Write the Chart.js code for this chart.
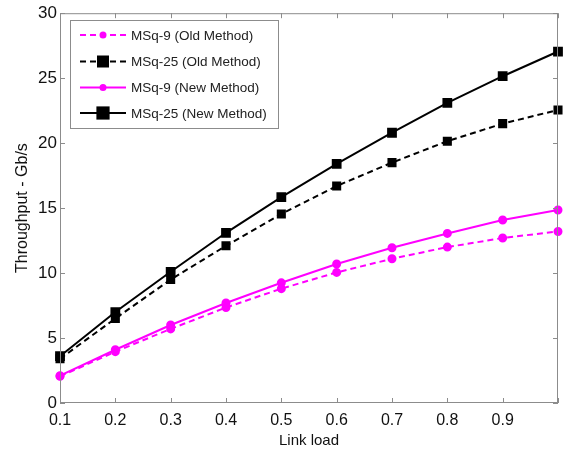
<!DOCTYPE html>
<html>
<head>
<meta charset="utf-8">
<script src="https://cdn.jsdelivr.net/npm/chart.js"></script>
<style>
  html, body { margin: 0; padding: 0; background: #ffffff; }
  #wrap { width: 566px; height: 450px; position: relative; }
</style>
</head>
<body>
<div id="wrap"><canvas id="chart"></canvas></div>
<script>
// link load values (x)
const linkLoad = [0.1, 0.2, 0.3, 0.4, 0.5, 0.6, 0.7, 0.8, 0.9, 1.0];
// throughput in Gb/s
const msq9Old = [2.05, 3.95, 5.7, 7.35, 8.8, 10.05, 11.1, 12.0, 12.7, 13.2];
const msq25Old = [3.4, 6.5, 9.5, 12.1, 14.55, 16.7, 18.5, 20.15, 21.5, 22.55];
const msq9New = [2.1, 4.1, 6.0, 7.7, 9.25, 10.7, 11.95, 13.05, 14.08, 14.85];
const msq25New = [3.6, 7.0, 10.1, 13.1, 15.85, 18.4, 20.8, 23.1, 25.15, 27.05];
const seriesNames = ['MSq-9 (Old Method)', 'MSq-25 (Old Method)', 'MSq-9 (New Method)', 'MSq-25 (New Method)'];
const yTicks = [0, 5, 10, 15, 20, 25, 30];

const FONT = '"Liberation Sans", Arial, Helvetica, sans-serif';
const AXIS_GRAY = '#8c8c8c';

function toPoints(ys) {
    return linkLoad.map((x, i) => ({ x: x, y: ys[i] }));
}

// frame with inward tick marks on all four sides
const framePlugin = {
    id: 'frame',
    afterDatasetsDraw(chart) {
        const { ctx, chartArea: a, scales } = chart;
        ctx.save();
        ctx.strokeStyle = AXIS_GRAY;
        ctx.lineWidth = 1;
        ctx.strokeRect(a.left + 0.5, a.top + 0.5, a.right - a.left - 1, a.bottom - a.top - 1);
        const len = 5;
        ctx.beginPath();
        scales.x.ticks.forEach(t => {
            const px = Math.round(scales.x.getPixelForValue(t.value)) + 0.5;
            ctx.moveTo(px, a.bottom);
            ctx.lineTo(px, a.bottom - len);
            ctx.moveTo(px, a.top);
            ctx.lineTo(px, a.top + len);
        });
        scales.y.ticks.forEach(t => {
            const py = Math.round(scales.y.getPixelForValue(t.value)) + 0.5;
            ctx.moveTo(a.left, py);
            ctx.lineTo(a.left + len, py);
            ctx.moveTo(a.right, py);
            ctx.lineTo(a.right - len, py);
        });
        ctx.stroke();
        ctx.restore();
    }
};

// legend box drawn inside the plot, upper left
const legendPlugin = {
    id: 'boxLegend',
    afterDraw(chart) {
        const { ctx } = chart;
        const box = { x: 70.5, y: 20.5, w: 208, h: 108 };
        ctx.save();
        ctx.fillStyle = '#ffffff';
        ctx.fillRect(box.x, box.y, box.w, box.h);
        ctx.strokeStyle = AXIS_GRAY;
        ctx.lineWidth = 1;
        ctx.strokeRect(box.x, box.y, box.w, box.h);
        const rows = [35, 61.5, 87.5, 113];
        chart.data.datasets.forEach((ds, i) => {
            const y = rows[i];
            ctx.strokeStyle = ds.borderColor;
            ctx.lineWidth = ds.borderWidth;
            ctx.setLineDash(ds.borderDash || []);
            ctx.beginPath();
            ctx.moveTo(80, y);
            ctx.lineTo(126, y);
            ctx.stroke();
            ctx.setLineDash([]);
            ctx.fillStyle = ds.pointBackgroundColor;
            if (ds.pointStyle === 'rect') {
                const s = ds.pointRadius * 1.2;
                ctx.fillRect(103 - s, y - s, 2 * s, 2 * s);
            } else {
                ctx.beginPath();
                ctx.arc(103, y, ds.pointRadius, 0, Math.PI * 2);
                ctx.fill();
            }
            ctx.fillStyle = '#222222';
            ctx.font = '13.5px ' + FONT;
            ctx.textBaseline = 'middle';
            ctx.fillText(ds.label, 131, y + 1);
        });
        ctx.restore();
    }
};

const ctx = document.getElementById('chart').getContext('2d');
new Chart(ctx, {
    type: 'line',
    data: {
        datasets: [
            {
                label: seriesNames[0],
                data: toPoints(msq9Old),
                borderColor: '#ff00ff',
                backgroundColor: '#ff00ff',
                pointBackgroundColor: '#ff00ff',
                pointBorderColor: '#ff00ff',
                borderWidth: 2,
                borderDash: [6, 4],
                pointStyle: 'circle',
                pointRadius: 3.5
            },
            {
                label: seriesNames[1],
                data: toPoints(msq25Old),
                borderColor: '#000000',
                backgroundColor: '#000000',
                pointBackgroundColor: '#000000',
                pointBorderColor: '#000000',
                borderWidth: 2,
                borderDash: [6, 4],
                pointStyle: 'rect',
                pointRadius: 5
            },
            {
                label: seriesNames[2],
                data: toPoints(msq9New),
                borderColor: '#ff00ff',
                backgroundColor: '#ff00ff',
                pointBackgroundColor: '#ff00ff',
                pointBorderColor: '#ff00ff',
                borderWidth: 2,
                pointStyle: 'circle',
                pointRadius: 3.5
            },
            {
                label: seriesNames[3],
                data: toPoints(msq25New),
                borderColor: '#000000',
                backgroundColor: '#000000',
                pointBackgroundColor: '#000000',
                pointBorderColor: '#000000',
                borderWidth: 2,
                pointStyle: 'rect',
                pointRadius: 5.5
            }
        ]
    },
    options: {
        responsive: true,
        maintainAspectRatio: false,
        animation: false,
        clip: false,
        layout: { padding: { left: 0, right: 5, top: 13, bottom: 0 } },
        plugins: {
            legend: { display: false },
            tooltip: { enabled: false }
        },
        scales: {
            x: {
                type: 'linear',
                min: 0.1,
                max: 1.0,
                grid: { display: false, drawTicks: false },
                border: { display: false },
                afterFit: (scale) => { scale.height = 47; },
                ticks: {
                    stepSize: 0.1,
                    padding: 8,
                    color: '#111111',
                    font: { family: FONT, size: 16 },
                    maxRotation: 0,
                    callback: (v) => (v > 0.95 ? '' : Number(v).toFixed(1))
                },
                title: {
                    display: true,
                    text: 'Link load',
                    color: '#111111',
                    font: { family: FONT, size: 15 },
                    padding: { top: 0, bottom: 0 }
                }
            },
            y: {
                min: 0,
                max: 30,
                grid: { display: false, drawTicks: false },
                border: { display: false },
                afterFit: (scale) => { scale.width = 60; },
                afterBuildTicks: (scale) => {
                    scale.ticks = yTicks.map(v => ({ value: v }));
                },
                ticks: {
                    padding: 3,
                    color: '#111111',
                    font: { family: FONT, size: 17 }
                },
                title: {
                    display: true,
                    text: 'Throughput - Gb/s',
                    color: '#111111',
                    font: { family: FONT, size: 16 },
                    padding: { top: 13, bottom: 0 }
                }
            }
        }
    },
    plugins: [framePlugin, legendPlugin]
});
</script>
</body>
</html>
